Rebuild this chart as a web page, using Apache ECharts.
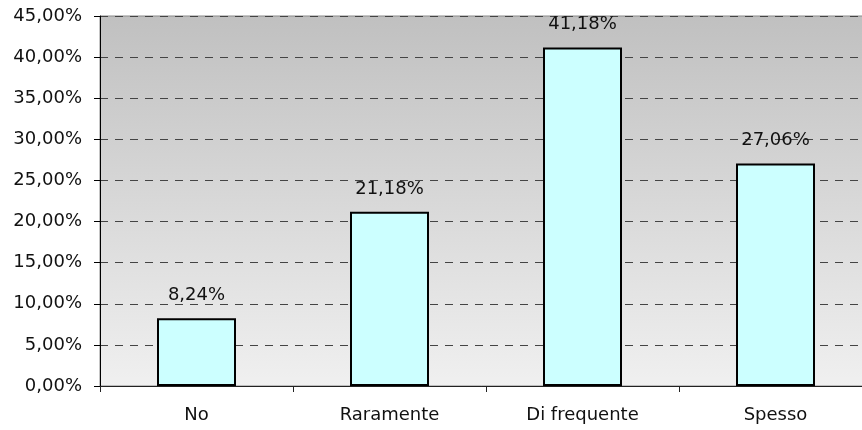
<!DOCTYPE html>
<html><head><meta charset="utf-8">
<script src="https://cdn.jsdelivr.net/npm/echarts@6/dist/echarts.min.js"></script>
<style>html,body{margin:0;padding:0;background:#fff}#c{width:862px;height:430px}</style>
</head><body><div id="c"></div>
<script>
const categories = ["No", "Raramente", "Di frequente", "Spesso"];
const values = [8.24, 21.18, 41.18, 27.06];
const yMin = 0, yMax = 45, yStep = 5;

function fmt(v) { return v.toFixed(2).replace('.', ',') + '%'; }

const chart = echarts.init(document.getElementById('c'));
const font = 'DejaVu Sans';
chart.setOption({
  animation: false,
  grid: {
    left: 100, top: 16, width: 772, height: 370,
    outerBoundsMode: 'none', containLabel: false,
    show: true, borderWidth: 1, borderColor: '#8a8a8a',
    backgroundColor: new echarts.graphic.LinearGradient(0, 0, 0, 1, [
      {offset: 0, color: '#c0c0c0'}, {offset: 1, color: '#f0f0f0'}
    ])
  },
  xAxis: {
    type: 'category', data: categories,
    axisLine: {lineStyle: {color: '#222', width: 1}},
    axisTick: {show: true, length: 6, alignWithLabel: false, lineStyle: {color: '#222'}},
    axisLabel: {color: '#111', fontFamily: font, fontSize: 18, margin: 20}
  },
  yAxis: {
    type: 'value', min: yMin, max: yMax, interval: yStep,
    axisLine: {show: true, lineStyle: {color: '#000', width: 1}},
    axisTick: {show: true, length: 6, lineStyle: {color: '#000'}},
    axisLabel: {color: '#111', fontFamily: font, fontSize: 18, margin: 18, formatter: fmt},
    splitLine: {show: true, lineStyle: {color: '#444', type: [8, 7], width: 1}}
  },
  series: [{
    type: 'bar', data: values, barWidth: 79,
    itemStyle: {color: '#ccffff', borderColor: '#000', borderWidth: 2},
    label: {show: true, position: 'top', distance: 14, color: '#111', fontFamily: font, fontSize: 18, formatter: p => fmt(p.value)}
  }]
});
</script></body></html>
